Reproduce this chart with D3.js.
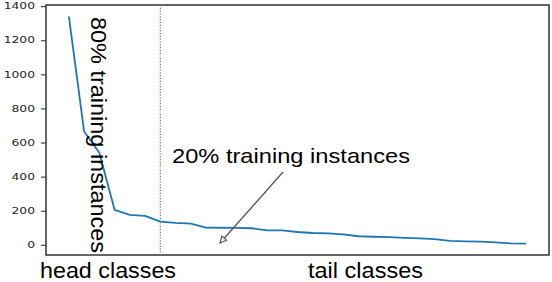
<!DOCTYPE html>
<html>
<head>
<meta charset="utf-8">
<script src="https://cdn.jsdelivr.net/npm/d3@7"></script>
<style>
  body { margin: 0; background: #fff; }
  svg { display: block; }
  .big { font-family: "Liberation Sans", Arial, sans-serif; fill: #000; }
</style>
</head>
<body>
<div class="chart"></div>
<script>
var svgWidth = 552;
var svgHeight = 282;

// plot frame in pixels
var margin = { top: 5, right: 3, bottom: 27, left: 46 };
var width = svgWidth - margin.left - margin.right;
var height = svgHeight - margin.top - margin.bottom;

// instances per class, sorted
var classCounts = [1340, 665, 540, 205, 176, 170, 136, 128, 124, 101, 100, 99, 97, 84, 84, 75,
  69, 67, 61, 50, 47, 45, 41, 38, 33, 23, 20, 18, 14, 8, 7];
var yTicks = [0, 200, 400, 600, 800, 1000, 1200, 1400];
var splitIndex = 6;
var headLabel = "head classes";
var tailLabel = "tail classes";
var headNote = "80% training instances";
var tailNote = "20% training instances";

var svg = d3.select(".chart")
  .append("svg")
  .attr("width", svgWidth)
  .attr("height", svgHeight);

var defs = svg.append("defs");
defs.append("marker")
  .attr("id", "head")
  .attr("viewBox", "0 0 10 10")
  .attr("refX", 9)
  .attr("refY", 5)
  .attr("markerWidth", 8)
  .attr("markerHeight", 8)
  .attr("markerUnits", "userSpaceOnUse")
  .attr("orient", "auto")
  .append("path")
  .attr("d", "M1,1 L9,5 L1,9 Z")
  .attr("fill", "#fff")
  .attr("stroke", "#555")
  .attr("stroke-width", 1.4);

var chartGroup = svg.append("g")
  .attr("transform", `translate(${margin.left}, ${margin.top})`);

// matplotlib-like 5% padding on x
var n = classCounts.length;
var xPad = (n - 1) * 0.05;
var xScale = d3.scaleLinear()
  .domain([-xPad, n - 1 + xPad])
  .range([0, width]);

var yScale = d3.scaleLinear()
  .domain([-60, 1407])
  .range([height, 0]);

// y axis
var leftAxis = d3.axisLeft(yScale)
  .tickValues(yTicks)
  .tickSize(5)
  .tickPadding(6)
  .tickFormat(d3.format("d"));

var yAxis = chartGroup.append("g").call(leftAxis);
yAxis.select(".domain").remove();
yAxis.selectAll("line").attr("stroke", "#222");
yAxis.selectAll("text")
  .attr("font-family", "DejaVu Sans, sans-serif")
  .attr("font-size", 8.5)
  .attr("fill", "#222")
  .attr("x", -11 / 1.45)
  .attr("transform", "scale(1.45,1)");

// frame
chartGroup.append("rect")
  .attr("width", width)
  .attr("height", height)
  .attr("fill", "none")
  .attr("stroke", "#333")
  .attr("stroke-width", 1.5);

// split between head and tail
chartGroup.append("line")
  .attr("x1", xScale(splitIndex))
  .attr("x2", xScale(splitIndex))
  .attr("y1", 0)
  .attr("y2", height)
  .attr("stroke", "#777")
  .attr("stroke-width", 1.2)
  .attr("stroke-dasharray", "1.2,1.6");

// class-count curve
var line = d3.line()
  .x((d, i) => xScale(i))
  .y(d => yScale(d));

chartGroup.append("path")
  .datum(classCounts)
  .attr("d", line)
  .attr("fill", "none")
  .attr("stroke", "#1f77b4")
  .attr("stroke-width", 1.8)
  .attr("stroke-linejoin", "round");

// annotations
svg.append("text")
  .attr("class", "big")
  .attr("transform", "translate(91,17) rotate(90)")
  .attr("font-size", 22)
  .attr("textLength", 236)
  .attr("lengthAdjust", "spacingAndGlyphs")
  .text(headNote);

svg.append("text")
  .attr("class", "big")
  .attr("x", 172)
  .attr("y", 163)
  .attr("font-size", 21)
  .attr("textLength", 238)
  .attr("lengthAdjust", "spacingAndGlyphs")
  .text(tailNote);

svg.append("line")
  .attr("x1", 283)
  .attr("y1", 172)
  .attr("x2", 220)
  .attr("y2", 243)
  .attr("stroke", "#555")
  .attr("stroke-width", 1.3)
  .attr("marker-end", "url(#head)");

svg.append("text")
  .attr("class", "big")
  .attr("x", 40)
  .attr("y", 278)
  .attr("font-size", 22)
  .attr("textLength", 136)
  .attr("lengthAdjust", "spacingAndGlyphs")
  .text(headLabel);

svg.append("text")
  .attr("class", "big")
  .attr("x", 308)
  .attr("y", 278)
  .attr("font-size", 22)
  .attr("textLength", 115)
  .attr("lengthAdjust", "spacingAndGlyphs")
  .text(tailLabel);
</script>
</body>
</html>
